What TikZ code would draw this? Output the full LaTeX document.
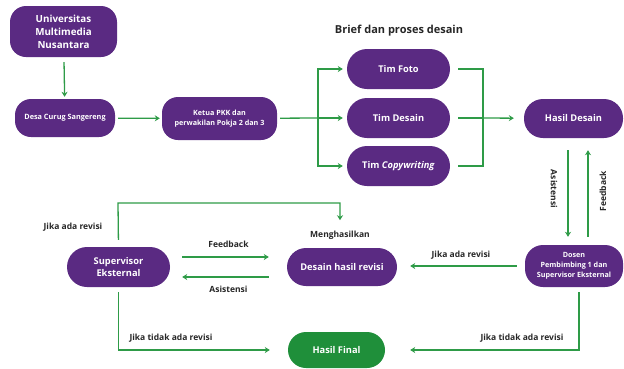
\documentclass[tikz,border=0pt]{standalone}
\usepackage{fontspec}
\setmainfont{Open Sans}
\usepackage{xcolor}
\usepackage{tikz}
\usetikzlibrary{positioning,arrows.meta}

\definecolor{ungu}{RGB}{90,42,130}
\definecolor{hijau}{RGB}{46,155,71}
\definecolor{hijaubox}{RGB}{31,143,58}

\begin{document}
\begin{tikzpicture}[x=1pt,y=-1pt,
  box/.style={fill=ungu, text=white, rounded corners=16pt, align=center,
    inner sep=2pt, font=\bfseries\fontsize{9.3}{12.5}\selectfont},
  smallbox/.style={box, font=\bfseries\fontsize{7.2}{10}\selectfont},
  arr/.style={hijau, line width=1.3pt, ->},
  ln/.style={hijau, line width=1.3pt},
  lbl/.style={font=\bfseries\fontsize{8.5}{10}\selectfont, text=black!85}]
\useasboundingbox (0,0) rectangle (624,368);
\tikzset{>={Stealth[length=5pt,width=6pt]}}

% top row
\node[box, font=\bfseries\fontsize{9.8}{13}\selectfont, minimum width=107pt, minimum height=51pt] (umn) at (63.5,31.5) {Universitas\\Multimedia\\Nusantara};
\node[smallbox, font=\bfseries\fontsize{7.3}{9}\selectfont, minimum width=100pt, minimum height=38pt] (desa) at (65,118) {Desa Curug Sangereng};
\node[smallbox, minimum width=115pt, minimum height=43pt] (ketua) at (219.5,118.5) {Ketua PKK dan\\perwakilan Pokja 2 dan 3};
\node[lbl, font=\bfseries\fontsize{11}{13}\selectfont] (judul) at (399,31) {Brief dan proses desain};
\node[box, minimum width=103pt, minimum height=40pt, rounded corners=20pt] (foto) at (398.5,69) {Tim Foto};
\node[box, minimum width=103pt, minimum height=40pt, rounded corners=20pt] (desain) at (398.5,118) {Tim Desain};
\node[box, minimum width=103pt, minimum height=40pt, rounded corners=20pt] (copy) at (398.5,166) {Tim \textit{Copywriting}};
\node[box, minimum width=99pt, minimum height=39pt, rounded corners=19pt] (hasil) at (573.5,118.5) {Hasil Desain};

% bottom row
\node[box, minimum width=103pt, minimum height=40pt, rounded corners=20pt] (super) at (118.5,267) {Supervisor\\Eksternal};
\node[box, minimum width=110pt, minimum height=38pt, rounded corners=19pt] (revisi) at (342,267) {Desain hasil revisi};
\node[smallbox, minimum width=98pt, minimum height=42pt, rounded corners=18pt] (dosen) at (574,266) {Dosen\\Pembimbing 1 dan\\Supervisor Eksternal};
\node[box, fill=hijaubox, minimum width=97pt, minimum height=36pt, rounded corners=18pt] (final) at (336.5,350) {Hasil Final};

\coordinate (split) at (318,118);
\coordinate (join) at (483,118);
\coordinate (revtop) at (118,203);

% alur atas
\draw[arr, shorten <=5pt, shorten >=2pt] (umn) -- (desa);
\draw[arr, shorten <=3pt, shorten >=2pt] (desa) -- (ketua);
\draw[ln, shorten <=3pt] (ketua) -- (split);
\draw[arr, shorten >=4pt] (split) |- (foto);
\draw[arr, shorten >=4pt] (split) -- (desain);
\draw[arr, shorten >=4pt] (split) |- (copy);
\draw[ln, shorten <=8pt] (foto) -| (join);
\draw[ln, shorten <=8pt] (desain) -- (join);
\draw[ln, shorten <=8pt] (copy) -| (join);
\draw[arr, shorten >=10pt] (join) -- (hasil);

% asistensi / feedback
\draw[arr, shorten <=12pt, shorten >=8pt] ([xshift=-5.5pt]hasil.south) -- ([xshift=-5.5pt]hasil.south |- dosen.north);
\draw[arr, shorten <=8pt, shorten >=12pt] ([xshift=14.5pt]hasil.south |- dosen.north) -- ([xshift=14.5pt]hasil.south);
\node[lbl, rotate=-90] (asis1) at (554,189) {Asistensi};
\node[lbl, rotate=90] (feed1) at (603,191) {Feedback};

% revisi
\draw[arr, shorten <=8pt, shorten >=13pt] (dosen) -- (dosen -| revisi.east)
  node[midway, lbl, above=3pt] (jar1) {Jika ada revisi};
\node[lbl] (mengh) at (340,235) {Menghasilkan};
\draw[arr, shorten <=7pt, shorten >=7pt] (super.north) -- (revtop) -| (mengh.north);
\node[lbl] (jar2) at (73,227) {Jika ada revisi};
\draw[arr, shorten <=12pt, shorten >=18pt] ([yshift=10pt]super.east) -- ([yshift=10pt]super.east -| revisi.west)
  node[midway, lbl, above=5pt] (feed2) {Feedback};
\draw[arr, shorten <=18pt, shorten >=12pt] ([yshift=-10pt]super.east -| revisi.west) -- ([yshift=-10pt]super.east)
  node[midway, lbl, below=5pt] (asis2) {Asistensi};

% hasil final
\draw[arr, shorten <=5pt, shorten >=18pt] (super.south) |- (final.west);
\draw[arr, shorten <=5pt, shorten >=25pt] ([xshift=5pt]dosen.south) |- (final.east);
\node[lbl, anchor=west] (jtr1) at (126,338) {Jika tidak ada revisi};
\node[lbl] (jtr2) at (522,338) {Jika tidak ada revisi};
\end{tikzpicture}
\end{document}
